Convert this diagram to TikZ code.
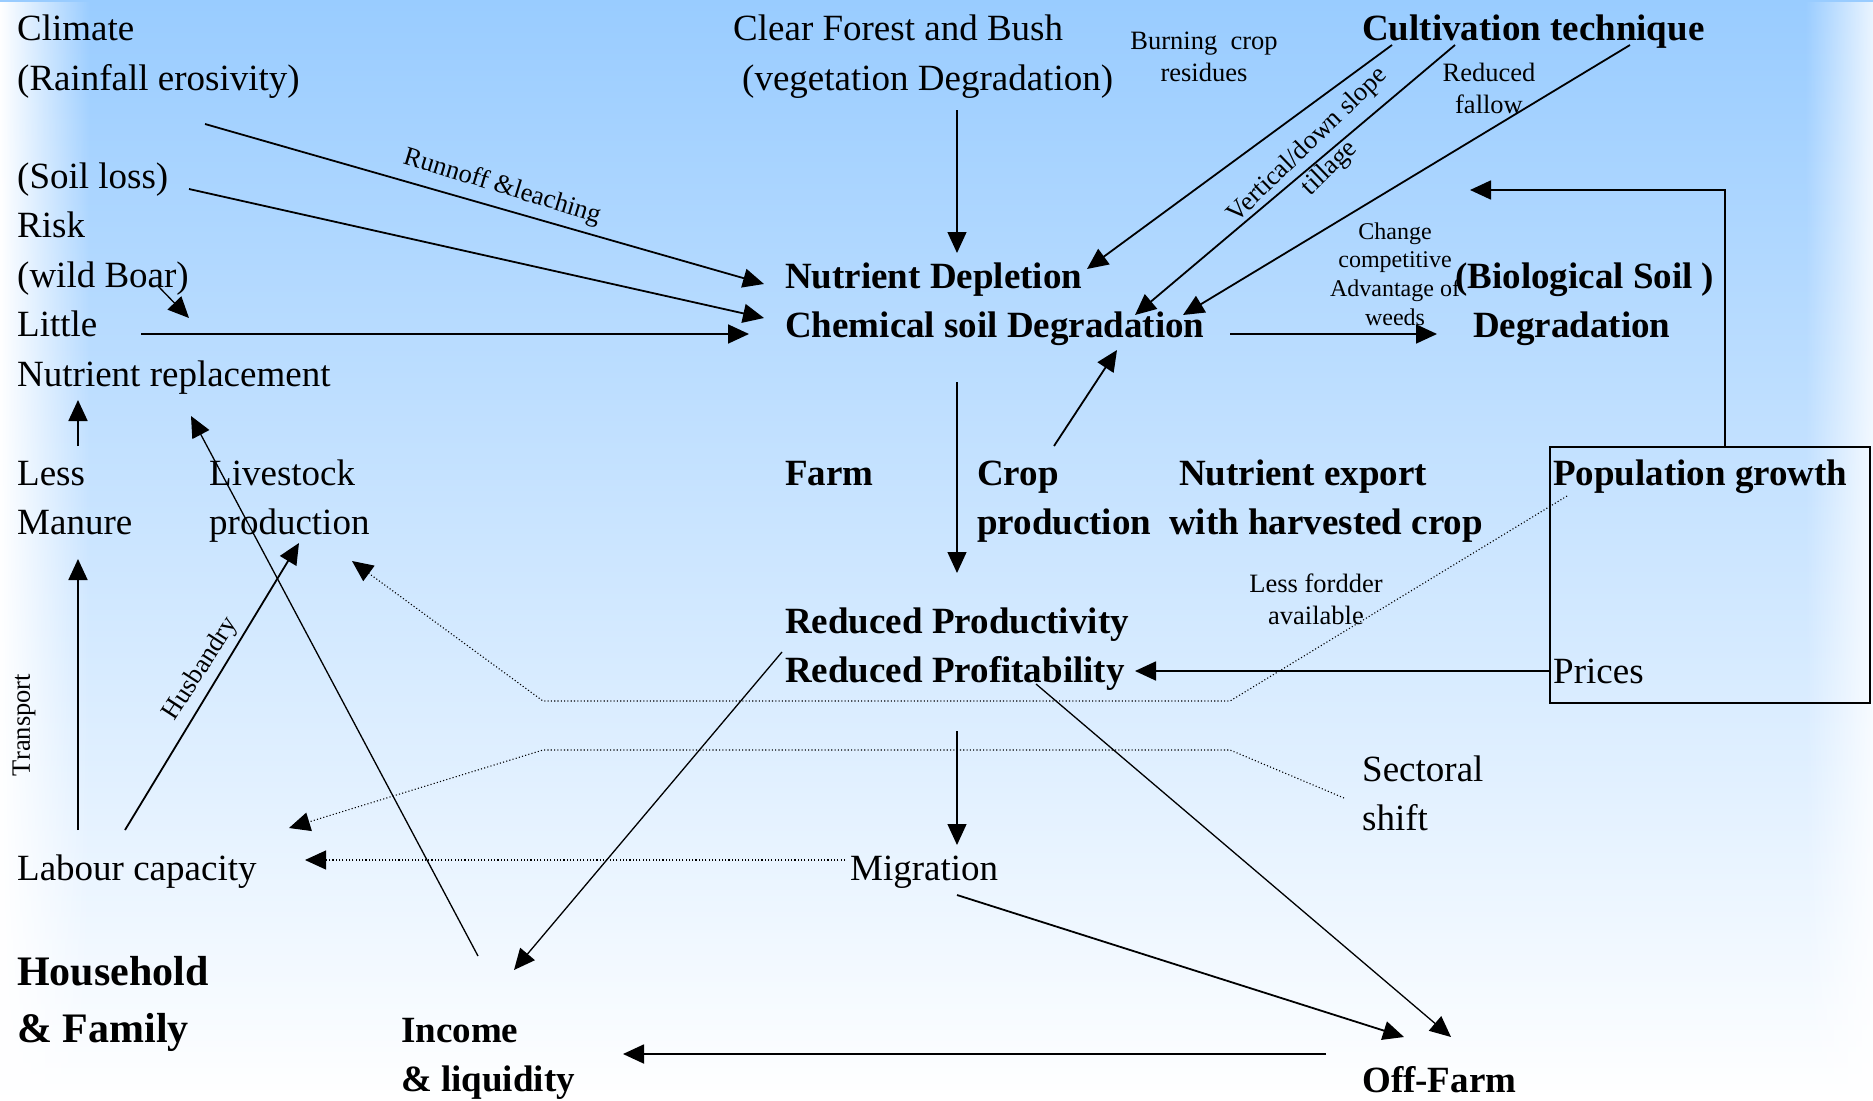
\documentclass[tikz,border=0pt]{standalone}
\usepackage{fontspec}
\setmainfont{Liberation Serif}
\usetikzlibrary{arrows.meta,fadings}
\definecolor{bgtop}{RGB}{153,204,255}
\tikzfading[name=fadewest, left color=transparent!0, right color=transparent!100]
\tikzfading[name=fadeeast, left color=transparent!100, right color=transparent!0]
\newcommand\mlines[1]{\begin{tabular}[t]{@{}l@{}}#1\end{tabular}}
\newcommand\mcent[1]{\begin{tabular}[t]{@{}c@{}}#1\end{tabular}}
\begin{document}
\begin{tikzpicture}[x=1pt,y=-1pt,
  txt/.style={anchor=base west, inner sep=0pt, font=\fontsize{37}{49.5}\selectfont},
  btxt/.style={txt, font=\bfseries\fontsize{37}{49.5}\selectfont},
  small/.style={inner sep=0pt, font=\fontsize{26.5}{32}\selectfont},
  smaller/.style={inner sep=0pt, font=\fontsize{24}{28.7}\selectfont},
  arr/.style={-{Triangle[length=21pt,width=19pt]}, line width=1.8pt},
  tarr/.style={-{Triangle[length=21pt,width=19pt]}, line width=1.3pt},
  dotarr/.style={-{Triangle[length=21pt,width=19pt]}, line width=1.1pt, dash pattern=on 1.1pt off 2.2pt},
  dotline/.style={line width=1.1pt, dash pattern=on 1.1pt off 2.2pt}]
\useasboundingbox (0,0) rectangle (1873,1100);
% background
\shade[top color=bgtop, bottom color=white] (0,0) rectangle (1873,1100);
\fill[white, path fading=fadewest] (0,0) rectangle (90,1100);
\fill[white, fill opacity=0.8, path fading=fadeeast] (1805,0) rectangle (1873,1100);

% text nodes
\node[txt] (climate) at (17,40.7) {\mlines{Climate\\(Rainfall erosivity)}};
\node[txt] (soilloss) at (17,188) {(Soil loss)};
\node[txt] (risk) at (17,237.5) {\mlines{Risk\\(wild Boar)}};
\node[txt] (little) at (17,336.5) {\mlines{Little\\Nutrient replacement}};
\node[txt] (manure) at (17,485) {\mlines{Less\\Manure}};
\node[txt] (livestock) at (209,485) {\mlines{Livestock\\production}};
\node[txt] (labour) at (17,880) {Labour capacity};
\node[txt, font=\bfseries\fontsize{42}{57}\selectfont] (household) at (17,985) {\mlines{Household\\\& Family}};
\node[btxt] (income) at (401,1042) {\mlines{Income\\\& liquidity}};
\node[btxt] (offfarm) at (1362,1092) {Off-Farm};
\node[txt] (forest) at (733,40.7) {\mlines{Clear Forest and Bush\\\hspace{9pt}(vegetation Degradation)}};
\node[small, anchor=base] (burning) at (1204,49) {\mcent{Burning\ \ crop\\residues}};
\node[btxt] (cultivation) at (1362,40.7) {Cultivation technique};
\node[small, anchor=base] (fallow) at (1489,81) {\mcent{Reduced\\fallow}};
\node[small, rotate=44, align=center] (tillage) at (1319,157) {Vertical/down slope\\tillage};
\node[btxt] (depletion) at (785,288) {\mlines{Nutrient Depletion\\Chemical soil Degradation}};
\node[btxt] (biological) at (1455,288) {\mlines{(Biological Soil )\\\hspace{18pt}Degradation}};
\node[smaller, anchor=base] (weeds) at (1395,239) {\mcent{Change\\competitive\\Advantage of\\weeds}};
\node[btxt] (farm) at (785,485) {Farm};
\node[btxt] (crop) at (977,485) {\mlines{Crop\\production}};
\node[btxt] (export) at (1169,485) {\mlines{\hspace{10pt}Nutrient export\\with harvested crop}};
\node[draw, line width=1.5pt, anchor=north west, minimum width=320pt, minimum height=256pt, inner sep=0pt] (popbox) at (1549,446) {};
\node[btxt] (population) at (1553,485) {Population growth};
\node[txt] (prices) at (1553,683) {Prices};
\node[small, anchor=base] (fodder) at (1316,592) {\mcent{Less fordder\\available}};
\node[btxt] (reduced) at (785,633) {\mlines{Reduced Productivity\\Reduced Profitability}};
\node[txt] (sectoral) at (1362,781) {\mlines{Sectoral\\shift}};
\node[txt] (migration) at (850,880) {Migration};
\node[small, rotate=-17] (runoff) at (502,187) {Runnoff \&leaching};
\node[small, rotate=57] (husbandry) at (201,669) {Husbandry};
\node[small, rotate=90] (transport) at (24,725) {Transport};

% connector end points
\coordinate (climOut) at (205,124);   \coordinate (deplIn1) at (764,284);
\coordinate (soilOut) at (189,189);   \coordinate (deplIn2) at (764,318);
\coordinate (boarOut) at (158,286);   \coordinate (littleIn) at (189,318);
\coordinate (littleOut) at (141,334); \coordinate (deplIn3) at (749,334);
\coordinate (forestOut) at (957,110); \coordinate (deplIn4) at (957,253);
\coordinate (cultA) at (1392,45);     \coordinate (deplIn5) at (1087,269);
\coordinate (cultB) at (1455,45);     \coordinate (deplIn6) at (1135,315);
\coordinate (cultC) at (1630,45);     \coordinate (deplIn7) at (1183,315);
\coordinate (chemOut) at (1230,334);  \coordinate (bioIn) at (1437,334);
\coordinate (popTop) at (1725,446);   \coordinate (popBend) at (1725,190);
\coordinate (bioIn2) at (1470,190);
\coordinate (cropOut) at (1054,446);  \coordinate (deplIn8) at (1117,350);
\coordinate (farmTop) at (957,382);   \coordinate (redIn) at (957,573);
\coordinate (pricesOut) at (1549,671);\coordinate (redIn2) at (1135,671);
\coordinate (redOut) at (957,731);    \coordinate (migIn) at (957,845);
\coordinate (migOut) at (845,860);    \coordinate (labIn) at (305,860);
\coordinate (popDot) at (1567,496);   \coordinate (dotA1) at (1230,701);
\coordinate (dotA2) at (543,701);     \coordinate (liveIn) at (352,561);
\coordinate (secDot) at (1344,798);   \coordinate (dotB1) at (1230,750);
\coordinate (dotB2) at (543,750);     \coordinate (labIn2) at (289,828);
\coordinate (redOut2) at (782,652);   \coordinate (incIn) at (514,970);
\coordinate (incOut) at (478,956);    \coordinate (nrIn) at (191,416);
\coordinate (labOut1) at (125,830);   \coordinate (liveIn2) at (299,543);
\coordinate (labOut2) at (78,830);    \coordinate (manIn) at (78,559);
\coordinate (manOut) at (78,446);     \coordinate (nrIn2) at (78,400);
\coordinate (migOut2) at (957,895);   \coordinate (offIn1) at (1404,1037);
\coordinate (redOut3) at (1036,684);  \coordinate (offIn2) at (1451,1037);
\coordinate (offOut) at (1326,1054);  \coordinate (incIn2) at (623,1054);

% connectors
\draw[arr] (climOut) -- (deplIn1);
\draw[arr] (soilOut) -- (deplIn2);
\draw[tarr] (boarOut) -- (littleIn);
\draw[arr] (littleOut) -- (deplIn3);
\draw[tarr] (forestOut) -- (deplIn4);
\draw[arr] (cultA) -- (deplIn5);
\draw[arr] (cultB) -- (deplIn6);
\draw[arr] (cultC) -- (deplIn7);
\draw[arr] (chemOut) -- (bioIn);
\draw[arr] (popTop) -- (popBend) -- (bioIn2);
\draw[arr] (cropOut) -- (deplIn8);
\draw[tarr] (farmTop) -- (redIn);
\draw[arr] (pricesOut) -- (redIn2);
\draw[tarr] (redOut) -- (migIn);
\draw[dotarr] (migOut) -- (labIn);
\draw[dotarr] (popDot) -- (dotA1) -- (dotA2) -- (liveIn);
\draw[dotarr] (secDot) -- (dotB1) -- (dotB2) -- (labIn2);
\draw[tarr] (redOut2) -- (incIn);
\draw[tarr] (incOut) -- (nrIn);
\draw[arr] (labOut1) -- (liveIn2);
\draw[arr] (labOut2) -- (manIn);
\draw[arr] (manOut) -- (nrIn2);
\draw[arr] (migOut2) -- (offIn1);
\draw[tarr] (redOut3) -- (offIn2);
\draw[arr] (offOut) -- (incIn2);
\end{tikzpicture}
\end{document}
